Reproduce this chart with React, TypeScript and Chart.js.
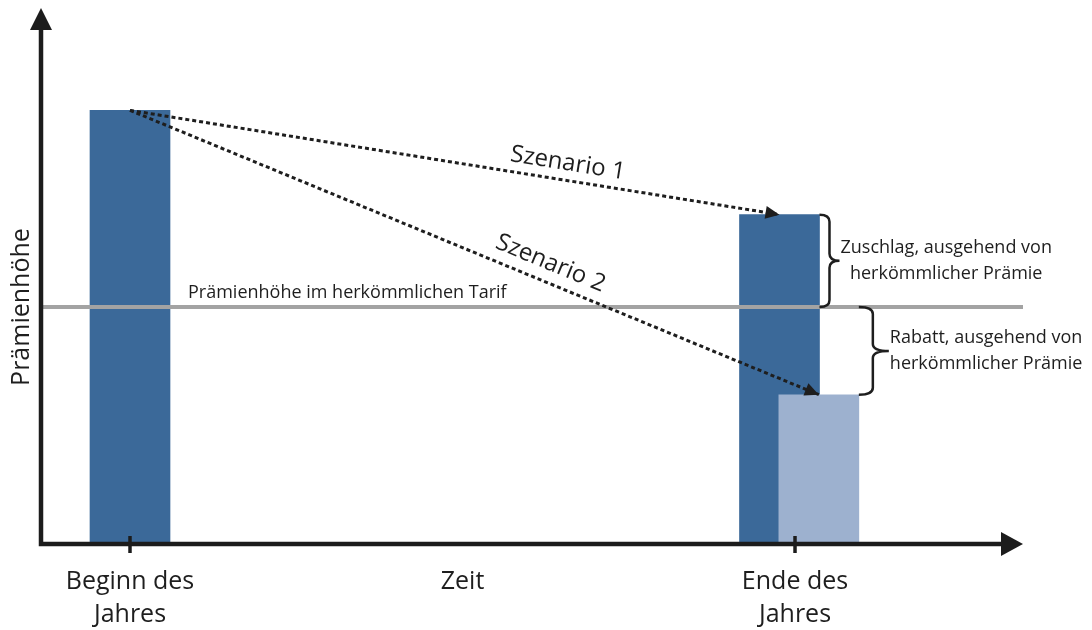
import React, { useEffect, useRef } from "react";
import { Chart, registerables } from "chart.js";

Chart.register(...registerables);

// ---------- data ----------
const xTickValues = [0, 6, 12];
const xTickLabels = [["Beginn des", "Jahres"], ["Zeit"], ["Ende des", "Jahres"]];
const xTickMarks = [true, false, true];
const yAxisTitle = "Prämienhöhe";

const barX = [0, 11.72, 12.43]; // Beginn, Ende (Szenario 1), Ende (Szenario 2)
const barValues = [183, 139, 63];
const conventionalPremium = 100;
const conventionalLabel = "Prämienhöhe im herkömmlichen Tarif";
const scenarioLabels = ["Szenario 1", "Szenario 2"];
const braceLabels = [
  ["Zuschlag, ausgehend von", "herkömmlicher Prämie"],
  ["Rabatt, ausgehend von", "herkömmlicher Prämie"],
];
const xRange = [-1.606, 16.114];
const yRange = [0, 226.2];

// ---------- style ----------
const FONT = "'Open Sans', 'Noto Sans', sans-serif";
const TEXT = "#1e1e1e";
const AXIS = "#1c1c1c";
const DARK = "#3b6999";
const LIGHT = "#9db1cf";
const GRAY = "#a3a3a3";

function drawBrace(ctx: CanvasRenderingContext2D, x0: number, yTop: number, yBot: number, depth: number, tip: number) {
  const xv = x0 + depth;
  const ym = (yTop + yBot) / 2;
  const r = 7;
  ctx.beginPath();
  ctx.moveTo(x0, yTop);
  ctx.quadraticCurveTo(xv, yTop, xv, yTop + r);
  ctx.lineTo(xv, ym - r);
  ctx.quadraticCurveTo(xv, ym, xv + tip, ym);
  ctx.quadraticCurveTo(xv, ym, xv, ym + r);
  ctx.lineTo(xv, yBot - r);
  ctx.quadraticCurveTo(xv, yBot, x0, yBot);
  ctx.stroke();
  return { tipX: xv + tip, midY: ym };
}

const decorPlugin = {
  id: "decor",
  afterDatasetsDraw(chart: any) {
    const ctx: CanvasRenderingContext2D = chart.ctx;
    const { left, right, top, bottom } = chart.chartArea;
    const xs = chart.scales.x;
    const ys = chart.scales.y;
    ctx.save();

    // scenario arrowheads + labels
    [3, 4].forEach((di, k) => {
      const pts = chart.getDatasetMeta(di).data;
      const p0 = pts[0], p1 = pts[1];
      const ang = Math.atan2(p1.y - p0.y, p1.x - p0.x);
      const L = 14, W = 6.5;
      ctx.fillStyle = TEXT;
      ctx.beginPath();
      ctx.moveTo(p1.x, p1.y);
      ctx.lineTo(p1.x - L * Math.cos(ang) + W * Math.sin(ang), p1.y - L * Math.sin(ang) - W * Math.cos(ang));
      ctx.lineTo(p1.x - L * Math.cos(ang) - W * Math.sin(ang), p1.y - L * Math.sin(ang) + W * Math.cos(ang));
      ctx.closePath();
      ctx.fill();
      const t = k === 0 ? 0.67 : 0.6;
      const off = k === 0 ? 17 : 19;
      const cx = p0.x + (p1.x - p0.x) * t;
      const cy = p0.y + (p1.y - p0.y) * t;
      ctx.save();
      ctx.translate(cx, cy);
      ctx.rotate(ang);
      ctx.font = `24px ${FONT}`;
      ctx.textAlign = "center";
      ctx.textBaseline = "middle";
      ctx.fillText(scenarioLabels[k], 0, -off);
      ctx.restore();
    });

    // conventional premium label
    const gy = ys.getPixelForValue(conventionalPremium);
    ctx.fillStyle = TEXT;
    ctx.font = `18px ${FONT}`;
    ctx.textAlign = "left";
    ctx.textBaseline = "middle";
    ctx.fillText(conventionalLabel, xs.getPixelForValue(barX[0]) + 58, gy - 14);

    // braces
    ctx.strokeStyle = TEXT;
    ctx.lineWidth = 2.5;
    const bar2 = chart.getDatasetMeta(1).data[1];
    const bar3 = chart.getDatasetMeta(0).data[0];
    const braces = [
      { x0: bar2.x + bar2.width / 2, yTop: bar2.y, yBot: gy, depth: 10, tip: 10, lines: braceLabels[0] },
      { x0: bar3.x + bar3.width / 2, yTop: gy, yBot: bar3.y, depth: 14, tip: 16, lines: braceLabels[1] },
    ];
    ctx.font = `18px ${FONT}`;
    braces.forEach((b) => {
      const { tipX, midY } = drawBrace(ctx, b.x0, b.yTop, b.yBot, b.depth, b.tip);
      const w = Math.max(...b.lines.map((s) => ctx.measureText(s).width));
      const cx = tipX + 1 + w / 2;
      ctx.textAlign = "center";
      ctx.textBaseline = "middle";
      ctx.fillText(b.lines[0], cx, midY - 13);
      ctx.fillText(b.lines[1], cx, midY + 13);
    });

    // axes with arrows
    ctx.strokeStyle = AXIS;
    ctx.fillStyle = AXIS;
    ctx.lineWidth = 4.5;
    ctx.lineCap = "butt";
    ctx.beginPath();
    ctx.moveTo(left, bottom + 2.25);
    ctx.lineTo(left, top + 20);
    ctx.moveTo(left - 2.25, bottom);
    ctx.lineTo(right - 20, bottom);
    ctx.stroke();
    ctx.beginPath();
    ctx.moveTo(left, top);
    ctx.lineTo(left - 11, top + 22);
    ctx.lineTo(left + 11, top + 22);
    ctx.closePath();
    ctx.fill();
    ctx.beginPath();
    ctx.moveTo(right, bottom);
    ctx.lineTo(right - 22, bottom - 12);
    ctx.lineTo(right - 22, bottom + 12);
    ctx.closePath();
    ctx.fill();

    // ticks and labels
    ctx.lineWidth = 3.5;
    ctx.fillStyle = TEXT;
    ctx.font = `25px ${FONT}`;
    ctx.textAlign = "center";
    ctx.textBaseline = "middle";
    xTickValues.forEach((v, i) => {
      const px = xs.getPixelForValue(v);
      if (xTickMarks[i]) {
        ctx.beginPath();
        ctx.moveTo(px, bottom - 8);
        ctx.lineTo(px, bottom + 9);
        ctx.stroke();
      }
      xTickLabels[i].forEach((s, j) => ctx.fillText(s, px, bottom + 38 + j * 33));
    });

    // y axis title
    ctx.save();
    ctx.translate(left - 19, gy);
    ctx.rotate(-Math.PI / 2);
    ctx.font = `25px ${FONT}`;
    ctx.fillText(yAxisTitle, 0, 0);
    ctx.restore();

    ctx.restore();
  },
};

export default function App() {
  const ref = useRef<HTMLCanvasElement | null>(null);
  useEffect(() => {
    if (!ref.current) return;
    const chart = new Chart(ref.current, {
      type: "bar",
      data: {
        datasets: [
          {
            type: "bar",
            label: "Ende (Szenario 2)",
            data: [{ x: barX[2], y: barValues[2] }],
            backgroundColor: LIGHT,
            order: 2,
          } as any,
          {
            type: "bar",
            label: "Prämie",
            data: [
              { x: barX[0], y: barValues[0] },
              { x: barX[1], y: barValues[1] },
            ],
            backgroundColor: DARK,
            order: 3,
          } as any,
          {
            type: "line",
            label: conventionalLabel,
            data: [
              { x: xRange[0], y: conventionalPremium },
              { x: xRange[1], y: conventionalPremium },
            ],
            borderColor: GRAY,
            borderWidth: 4,
            pointRadius: 0,
            order: 1,
          } as any,
          {
            type: "line",
            label: scenarioLabels[0],
            data: [
              { x: barX[0], y: barValues[0] },
              { x: barX[1], y: barValues[1] },
            ],
            borderColor: TEXT,
            borderWidth: 3,
            borderDash: [4, 3],
            pointRadius: 0,
            order: 0,
          } as any,
          {
            type: "line",
            label: scenarioLabels[1],
            data: [
              { x: barX[0], y: barValues[0] },
              { x: barX[2], y: barValues[2] },
            ],
            borderColor: TEXT,
            borderWidth: 3,
            borderDash: [4, 3],
            pointRadius: 0,
            order: 0,
          } as any,
        ],
      },
      options: {
        animation: false,
        responsive: false,
        maintainAspectRatio: false,
        events: [],
        layout: { padding: { left: 41, right: 1092 - 1023, top: 8, bottom: 630 - 544 } },
        datasets: { bar: { barThickness: 80, grouped: false, borderWidth: 0 } } as any,
        plugins: { legend: { display: false }, tooltip: { enabled: false } },
        scales: {
          x: { type: "linear", min: xRange[0], max: xRange[1], offset: false, display: false },
          y: { type: "linear", min: yRange[0], max: yRange[1], display: false },
        },
      },
      plugins: [decorPlugin],
    });
    return () => chart.destroy();
  }, []);
  return (
    <div style={{ position: "fixed", left: 0, top: 0, width: 1092, height: 630, background: "#fff" }}>
      <canvas ref={ref} width={1092} height={630} style={{ width: 1092, height: 630, display: "block" }} />
    </div>
  );
}
